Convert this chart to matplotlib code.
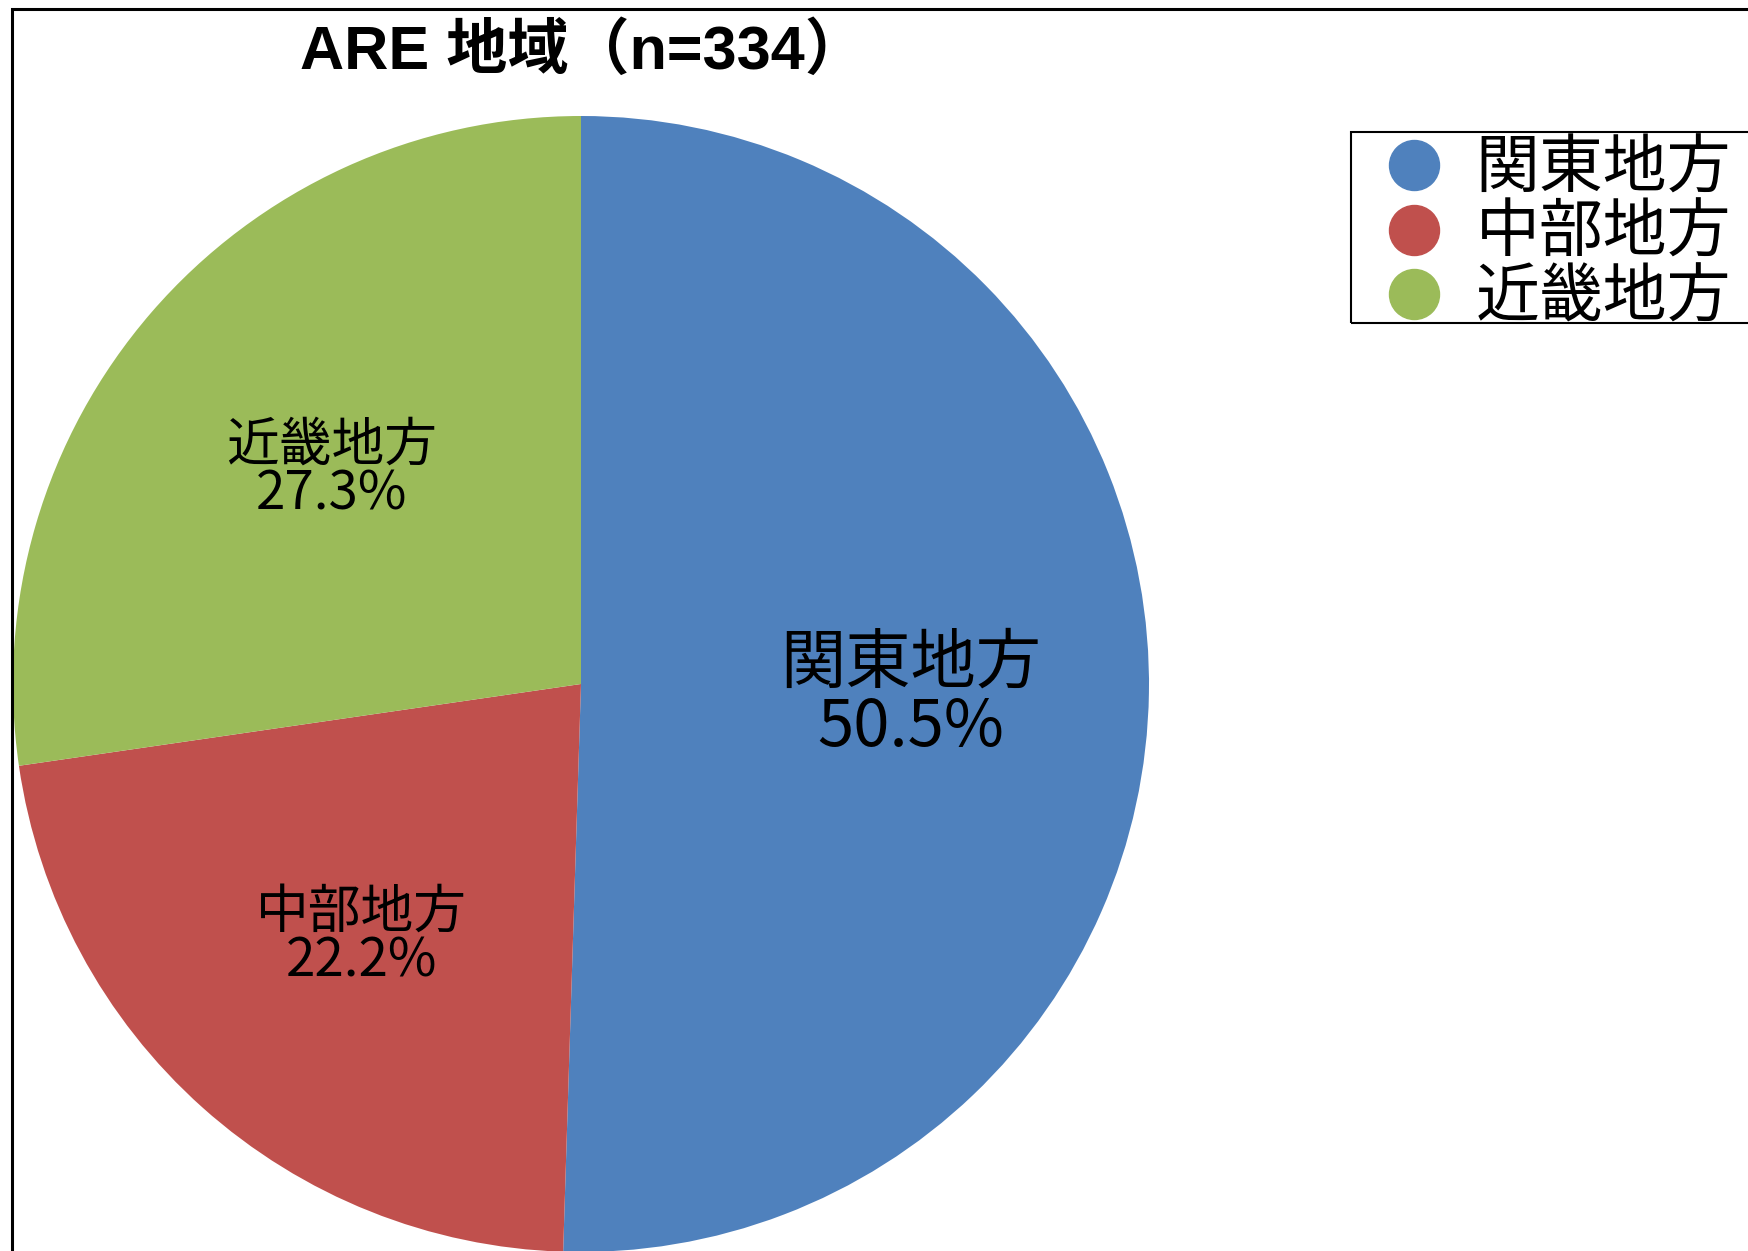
import matplotlib
matplotlib.use("Agg")
import matplotlib.pyplot as plt
from matplotlib.patches import Rectangle
from matplotlib.lines import Line2D

plt.rcParams['font.family'] = ['Noto Sans CJK JP', 'DejaVu Sans']

categories = ['関東地方', '中部地方', '近畿地方']
percents = [50.5, 22.2, 27.3]
colors = ['#4F81BD', '#C0504D', '#9BBB59']
title = 'ARE 地域（n=334）'

W, H = 1749, 1251
fig = plt.figure(figsize=(W / 100, H / 100), dpi=100)

# outer frame (extends past right/bottom edges)
fig.patches.append(Rectangle((12 / W, -0.05), 1.2, 1 - 9 / H + 0.05,
                             transform=fig.transFigure, fill=False,
                             edgecolor='black', linewidth=2.2))

cx, cy, r = 581, 684, 568
ax = fig.add_axes([(cx - r) / W, (H - cy - r) / H, 2 * r / W, 2 * r / H])
wedges, texts, autotexts = ax.pie(
    percents, colors=colors, startangle=90, counterclock=False,
    autopct=lambda p: '', pctdistance=0.58,
    wedgeprops=dict(linewidth=0))
ax.set_xlim(-1, 1)
ax.set_ylim(-1, 1)
ax.set_aspect('equal')
ax.axis('off')

sizes = [47, 38, 38]
spacings = [0.95, 0.85, 0.85]
offsets = [0.012, 0.012, 0.002]
for at, cat, p, fs, ls, dy in zip(autotexts, categories, percents, sizes,
                                  spacings, offsets):
    at.set_text(f'{cat}\n{p:.1f}%')
    at.set_fontsize(fs)
    at.set_linespacing(ls)
    at.set_color('black')
    x, y = at.get_position()
    at.set_position((x, y - dy))

fig.text(583 / W, 1 - 53 / H, title, ha='center', va='center',
         fontsize=44, fontweight='bold',
         family=['Liberation Sans', 'Noto Sans CJK JP'])

# legend frame (extends past the right edge)
fig.patches.append(Rectangle((1351 / W, 1 - 323 / H), 0.5, 191 / H,
                             transform=fig.transFigure, fill=False,
                             edgecolor='black', linewidth=1.5))

handles = [Line2D([], [], linestyle='none', marker='o', markersize=36,
                  markerfacecolor=c, markeredgecolor=c) for c in colors]
leg = fig.legend(handles, categories, loc='upper left',
                 bbox_to_anchor=(1376 / W, 1 - 136 / H),
                 bbox_transform=fig.transFigure,
                 fontsize=46, frameon=False, borderpad=0, borderaxespad=0,
                 handlelength=1.2, handletextpad=0.36, labelspacing=-0.03)

fig.savefig('out.png', dpi=100)
